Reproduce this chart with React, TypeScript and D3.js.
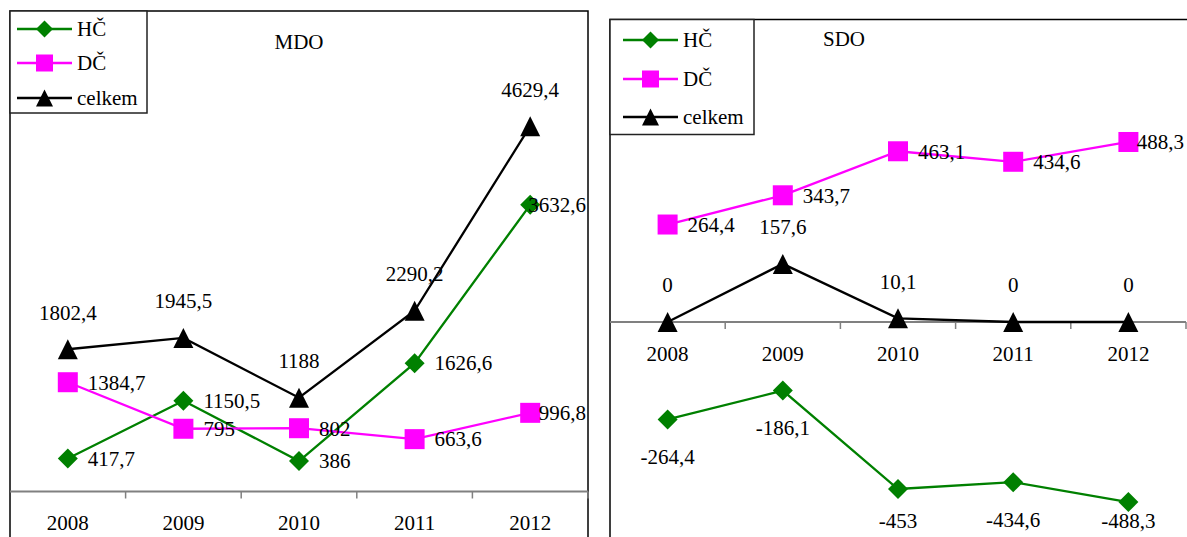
import React from "react";
import * as d3 from "d3";

// Categories and series values
const years = ["2008", "2009", "2010", "2011", "2012"];

const mdoHC = [417.7, 1150.5, 386, 1626.6, 3632.6];
const mdoDC = [1384.7, 795, 802, 663.6, 996.8];
const mdoCelkem = [1802.4, 1945.5, 1188, 2290.2, 4629.4];

const sdoHC = [-264.4, -186.1, -453, -434.6, -488.3];
const sdoDC = [264.4, 343.7, 463.1, 434.6, 488.3];
const sdoCelkem = [0, 157.6, 10.1, 0, 0];

const seriesNames = ["HČ", "DČ", "celkem"];

const GREEN = "#008000";
const MAGENTA = "#FF00FF";
const BLACK = "#000000";
const FONT = "'Liberation Serif', 'Times New Roman', serif";
const FS = 21;

const fmt = (v: number) => String(v).replace(".", ",");

type Shape = "diamond" | "square" | "triangle";

function Marker({ x, y, shape, color, size }: { x: number; y: number; shape: Shape; color: string; size: number }) {
  const h = size / 2;
  if (shape === "diamond") {
    return <path d={`M${x},${y - h}L${x + h},${y}L${x},${y + h}L${x - h},${y}Z`} fill={color} />;
  }
  if (shape === "square") {
    return <rect x={x - h} y={y - h} width={size} height={size} fill={color} />;
  }
  return <path d={`M${x},${y - h}L${x + h},${y + h}L${x - h},${y + h}Z`} fill={color} />;
}

type Placement = "right" | "above" | "below";

interface SeriesDef {
  values: number[];
  color: string;
  shape: Shape;
  placement: Placement;
}

function textWidth(s: string) {
  // Serif digits are half an em wide, the comma a quarter
  let w = 0;
  for (const c of s) w += c === "," ? 0.25 : c === "-" ? 0.333 : 0.5;
  return w * FS;
}

function Panel({
  left,
  top,
  right,
  frameRight,
  axisY,
  yScale,
  series,
  title,
  titleX,
  titleY,
  legend,
  yearBaseline,
  labelMaxY,
}: {
  left: number;
  top: number;
  right: number;
  frameRight: number;
  axisY: number;
  yScale: d3.ScaleLinear<number, number>;
  series: SeriesDef[];
  title: string;
  titleX: number;
  titleY: number;
  legend: { w: number; h: number; rows: number[]; lineX0: number; lineX1: number; textX: number };
  yearBaseline: number;
  labelMaxY: number;
}) {
  const plotRight = Math.min(right, 1187);
  const x = d3.scaleBand<string>().domain(years).range([left, right]);
  const cx = (yr: string) => (x(yr) as number) + x.bandwidth() / 2;
  const line = d3
    .line<number>()
    .x((_, i) => cx(years[i]))
    .y((v) => yScale(v));
  const tickXs = years.map((yr) => (x(yr) as number) + x.bandwidth());

  return (
    <g>
      {/* panel frame */}
      <rect x={left} y={top} width={frameRight - left} height={600} fill="#fff" stroke="#000" strokeWidth={1.5} />
      {/* category axis */}
      <line x1={left} x2={plotRight} y1={axisY} y2={axisY} stroke="#808080" strokeWidth={2} />
      {tickXs.map((t, i) => (
        <line key={i} x1={t} x2={t} y1={axisY} y2={axisY + 7} stroke="#808080" strokeWidth={1.5} />
      ))}
      {years.map((yr) => (
        <text key={yr} x={cx(yr)} y={yearBaseline} textAnchor="middle" fontFamily={FONT} fontSize={FS}>
          {yr}
        </text>
      ))}
      {/* lines */}
      {series.map((s, si) => (
        <path key={si} d={line(s.values) || ""} fill="none" stroke={s.color} strokeWidth={2.3} />
      ))}
      {/* markers */}
      {series.map((s, si) =>
        s.values.map((v, i) => (
          <Marker key={`${si}-${i}`} x={cx(years[i])} y={yScale(v)} shape={s.shape} color={s.color} size={20} />
        ))
      )}
      {/* value labels */}
      {series.map((s, si) =>
        s.values.map((v, i) => {
          const label = fmt(v);
          const px = cx(years[i]);
          const py = yScale(v);
          if (s.placement === "right") {
            const w = textWidth(label);
            const tx = Math.min(px + 20, plotRight - 2 - w);
            return (
              <text key={`l${si}-${i}`} x={tx} y={py} dy="0.35em" fontFamily={FONT} fontSize={FS}>
                {label}
              </text>
            );
          }
          const ty = s.placement === "above" ? py - 37 : Math.min(py + 37, labelMaxY);
          return (
            <text key={`l${si}-${i}`} x={px} y={ty} dy="0.35em" textAnchor="middle" fontFamily={FONT} fontSize={FS}>
              {label}
            </text>
          );
        })
      )}
      {/* title */}
      <text x={titleX} y={titleY} textAnchor="middle" fontFamily={FONT} fontSize={FS}>
        {title}
      </text>
      {/* legend */}
      <rect x={left} y={top} width={legend.w} height={legend.h} fill="#fff" stroke="#222" strokeWidth={1.5} />
      {series.map((s, si) => {
        const ly = legend.rows[si];
        const mx = (legend.lineX0 + legend.lineX1) / 2;
        return (
          <g key={`lg${si}`}>
            <line x1={legend.lineX0} x2={legend.lineX1} y1={ly} y2={ly} stroke={s.color} strokeWidth={2.5} />
            <Marker x={mx} y={ly} shape={s.shape} color={s.color} size={17} />
            <text x={legend.textX} y={ly} dy="0.35em" fontFamily={FONT} fontSize={FS}>
              {seriesNames[si]}
            </text>
          </g>
        );
      })}
    </g>
  );
}

export default function App() {
  const yLeft = d3.scaleLinear().domain([0, 6000]).range([491.5, 18]);
  const yRight = d3.scaleLinear().domain([-600, 600]).range([543.2, 100.8]);

  return (
    <svg
      width={1187}
      height={537}
      style={{ position: "absolute", left: 0, top: 0, display: "block", background: "#fff" }}
    >
      <rect x={0} y={0} width={1187} height={537} fill="#fff" />
      <Panel
        left={10}
        top={11}
        right={588}
        frameRight={588}
        axisY={491.5}
        yScale={yLeft}
        series={[
          { values: mdoHC, color: GREEN, shape: "diamond", placement: "right" },
          { values: mdoDC, color: MAGENTA, shape: "square", placement: "right" },
          { values: mdoCelkem, color: BLACK, shape: "triangle", placement: "above" },
        ]}
        title="MDO"
        titleX={299}
        titleY={49}
        legend={{ w: 137, h: 102, rows: [29, 63, 98], lineX0: 17, lineX1: 72, textX: 77 }}
        yearBaseline={530}
        labelMaxY={600}
      />
      <Panel
        left={610}
        top={19.5}
        right={1186}
        frameRight={1210}
        axisY={322}
        yScale={yRight}
        series={[
          { values: sdoHC, color: GREEN, shape: "diamond", placement: "below" },
          { values: sdoDC, color: MAGENTA, shape: "square", placement: "right" },
          { values: sdoCelkem, color: BLACK, shape: "triangle", placement: "above" },
        ]}
        title="SDO"
        titleX={844}
        titleY={46}
        legend={{ w: 144, h: 115, rows: [40, 79, 117], lineX0: 623, lineX1: 678, textX: 683 }}
        yearBaseline={361}
        labelMaxY={521}
      />
    </svg>
  );
}
